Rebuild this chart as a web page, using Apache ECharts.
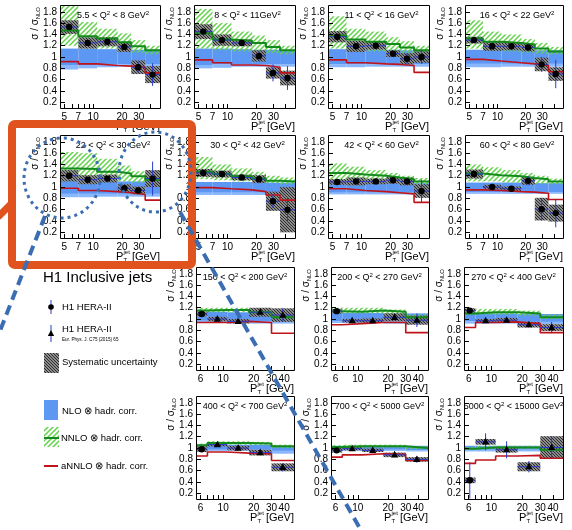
<!DOCTYPE html>
<html><head><meta charset="utf-8">
<script src="https://cdn.jsdelivr.net/npm/echarts@6.0.0/dist/echarts.min.js"></script>
<style>html,body{margin:0;padding:0;background:#fff;}#chart{width:572px;height:530px;}</style>
</head><body><div id="chart"></div>
<script>
// ================= DATA =================
const panelTitles = [
  '5.5 < Q{s|2} < 8 GeV{s|2}', '8 < Q{s|2} < 11GeV{s|2}', '11 < Q{s|2} < 16 GeV{s|2}', '16 < Q{s|2} < 22 GeV{s|2}',
  '22 < Q{s|2} < 30 GeV{s|2}', '30 < Q{s|2} < 42 GeV{s|2}', '42 < Q{s|2} < 60 GeV{s|2}', '60 < Q{s|2} < 80 GeV{s|2}',
  '150 < Q{s|2} < 200 GeV{s|2}', '200 < Q{s|2} < 270 GeV{s|2}', '270 < Q{s|2} < 400 GeV{s|2}',
  '400 < Q{s|2} < 700 GeV{s|2}', '700 < Q{s|2} < 5000 GeV{s|2}', '5000 < Q{s|2} < 15000 GeV{s|2}'
];
const ptEdgesLowQ2 = [4.5, 7, 11, 18, 25, 35, 50];
const ptEdgesHighQ2 = [5.4, 7, 11, 18, 30, 50];
const ptTicksLowQ2 = [5, 7, 10, 20, 30];
const ptTicksHighQ2 = [6, 10, 20, 30, 40];
const ptMinorLowQ2 = [5, 6, 7, 8, 9, 10, 20, 30, 40];
const ptMinorHighQ2 = [6, 7, 8, 9, 10, 20, 30, 40];
const ratioTicks = [0.2, 0.4, 0.6, 0.8, 1, 1.2, 1.4, 1.6, 1.8];

const h1Ratio = [
  [1.53, 1.25, 1.27, 1.18, 0.82, 0.69],
  [1.45, 1.30, 1.25, 1.02, 0.72, 0.63],
  [1.36, 1.19, 1.20, 1.06, 0.97, 1.00],
  [1.30, 1.19, 1.19, 1.17, 0.87, 0.70],
  [1.20, 1.13, 1.15, 0.98, 0.94, 1.15],
  [1.25, 1.23, 1.17, 1.14, 0.75, 0.60],
  [1.09, 1.10, 1.10, 1.12, 1.10, 0.93],
  [1.23, 1.00, 0.97, 1.11, 0.61, 0.54],
  [1.09, 1.00, 0.96, 1.12, 1.07],
  [1.14, 0.97, 0.97, 1.03, 0.98],
  [1.15, 0.97, 0.98, 0.90, 0.85],
  [0.98, 1.06, 1.00, 0.92, 0.66],
  [0.96, 0.99, 0.96, 0.88, 0.80],
  [0.43, 1.11, 0.97, 0.67, 1.01]
];
const statErr = [
  [0.03, 0.02, 0.02, 0.03, 0.10, 0.20],
  [0.03, 0.02, 0.02, 0.08, 0.15, 0.21],
  [0.03, 0.02, 0.02, 0.05, 0.10, 0.12],
  [0.03, 0.02, 0.02, 0.05, 0.13, 0.25],
  [0.03, 0.02, 0.02, 0.04, 0.05, 0.30],
  [0.03, 0.02, 0.02, 0.07, 0.12, 0.22],
  [0.02, 0.02, 0.02, 0.03, 0.05, 0.20],
  [0.04, 0.02, 0.02, 0.08, 0.20, 0.25],
  [0.02, 0.02, 0.02, 0.04, 0.12],
  [0.03, 0.02, 0.02, 0.05, 0.12],
  [0.03, 0.02, 0.02, 0.04, 0.10],
  [0.04, 0.02, 0.02, 0.04, 0.07],
  [0.04, 0.02, 0.02, 0.04, 0.06],
  [0.32, 0.15, 0.15, 0.10, 0.20]
];
const sysErr = [
  [0.12, 0.10, 0.08, 0.09, 0.12, 0.15],
  [0.13, 0.10, 0.06, 0.10, 0.10, 0.13],
  [0.10, 0.10, 0.07, 0.06, 0.10, 0.10],
  [0.06, 0.08, 0.07, 0.07, 0.12, 0.12],
  [0.10, 0.08, 0.07, 0.07, 0.07, 0.15],
  [0.07, 0.06, 0.05, 0.07, 0.17, 0.40],
  [0.05, 0.07, 0.05, 0.06, 0.07, 0.12],
  [0.08, 0.04, 0.04, 0.07, 0.20, 0.15],
  [0.04, 0.04, 0.04, 0.08, 0.12],
  [0.04, 0.03, 0.04, 0.07, 0.08],
  [0.04, 0.03, 0.04, 0.05, 0.06],
  [0.05, 0.03, 0.04, 0.05, 0.07],
  [0.04, 0.03, 0.03, 0.04, 0.04],
  [0.05, 0.05, 0.05, 0.08, 0.20]
];
const nnloCentral = [
  [1.47, 1.37, 1.33, 1.26, 1.19, 1.12],
  [1.42, 1.31, 1.29, 1.25, 1.18, 1.12],
  [1.38, 1.31, 1.27, 1.23, 1.17, 1.12],
  [1.33, 1.27, 1.25, 1.22, 1.15, 1.10],
  [1.33, 1.32, 1.27, 1.24, 1.19, 1.13],
  [1.27, 1.23, 1.19, 1.15, 1.11, 1.10],
  [1.25, 1.22, 1.20, 1.17, 1.14, 1.10],
  [1.24, 1.21, 1.19, 1.16, 1.14, 1.10],
  [1.15, 1.16, 1.16, 1.12, 1.03],
  [1.14, 1.13, 1.15, 1.13, 1.03],
  [1.10, 1.12, 1.12, 1.10, 1.03],
  [1.05, 1.09, 1.09, 1.08, 1.03],
  [1.02, 1.03, 1.03, 1.03, 1.00],
  [0.99, 1.01, 1.01, 1.01, 0.97]
];
const nnloLow = [
  [1.20, 1.15, 1.15, 1.12, 1.08, 1.05],
  [1.15, 1.12, 1.10, 1.10, 1.07, 1.05],
  [1.15, 1.10, 1.10, 1.08, 1.06, 1.05],
  [1.15, 1.12, 1.10, 1.08, 1.06, 1.05],
  [1.15, 1.15, 1.12, 1.10, 1.08, 1.05],
  [1.14, 1.12, 1.10, 1.08, 1.07, 1.05],
  [1.12, 1.10, 1.10, 1.08, 1.07, 1.05],
  [1.10, 1.10, 1.08, 1.07, 1.06, 1.05],
  [1.12, 1.12, 1.12, 1.08, 1.00],
  [1.10, 1.10, 1.10, 1.08, 1.00],
  [1.07, 1.08, 1.08, 1.06, 1.00],
  [1.02, 1.06, 1.06, 1.05, 1.00],
  [1.00, 1.01, 1.01, 1.01, 0.98],
  [0.97, 0.99, 0.99, 0.99, 0.95]
];
const nnloHigh = [
  [1.95, 1.62, 1.50, 1.42, 1.30, 1.20],
  [1.85, 1.60, 1.45, 1.38, 1.30, 1.20],
  [1.72, 1.50, 1.45, 1.35, 1.28, 1.20],
  [1.65, 1.45, 1.40, 1.32, 1.25, 1.18],
  [1.62, 1.60, 1.50, 1.38, 1.28, 1.20],
  [1.53, 1.40, 1.33, 1.27, 1.20, 1.17],
  [1.42, 1.36, 1.30, 1.25, 1.20, 1.16],
  [1.40, 1.35, 1.30, 1.25, 1.20, 1.15],
  [1.20, 1.20, 1.20, 1.17, 1.08],
  [1.20, 1.20, 1.20, 1.17, 1.08],
  [1.17, 1.18, 1.18, 1.15, 1.08],
  [1.08, 1.12, 1.12, 1.11, 1.06],
  [1.05, 1.06, 1.06, 1.06, 1.03],
  [1.02, 1.04, 1.04, 1.04, 1.00]
];
const annloCentral = [
  [0.92, 0.88, 0.85, 0.84, 0.82, 0.72],
  [0.95, 0.90, 0.86, 0.85, 0.82, 0.72],
  [0.95, 0.90, 0.88, 0.87, 0.85, 0.73],
  [0.96, 0.93, 0.90, 0.88, 0.85, 0.74],
  [0.98, 0.94, 0.92, 0.90, 0.87, 0.77],
  [0.99, 0.97, 0.95, 0.92, 0.86, 0.77],
  [0.97, 0.94, 0.92, 0.90, 0.88, 0.73],
  [0.95, 0.94, 0.92, 0.91, 0.89, 0.78],
  [0.94, 0.94, 0.96, 0.94, 0.75],
  [0.90, 0.92, 0.94, 0.94, 0.76],
  [0.85, 0.94, 0.95, 0.92, 0.76],
  [0.86, 0.93, 0.91, 0.90, 0.78],
  [0.84, 0.88, 0.90, 0.89, 0.78],
  [0.73, 0.79, 0.86, 0.87, 0.82]
];
const nloHigh = [
  [1.15, 1.15, 1.14, 1.14, 1.13, 1.13],
  [1.15, 1.15, 1.14, 1.13, 1.13, 1.12],
  [1.14, 1.14, 1.13, 1.13, 1.12, 1.12],
  [1.13, 1.13, 1.13, 1.12, 1.12, 1.12],
  [1.11, 1.11, 1.11, 1.10, 1.10, 1.10],
  [1.09, 1.09, 1.09, 1.08, 1.08, 1.08],
  [1.08, 1.08, 1.08, 1.08, 1.07, 1.07],
  [1.08, 1.08, 1.08, 1.07, 1.07, 1.07],
  [1.13, 1.13, 1.12, 1.12, 1.11],
  [1.11, 1.11, 1.11, 1.10, 1.10],
  [1.10, 1.10, 1.10, 1.09, 1.09],
  [1.06, 1.06, 1.06, 1.06, 1.04],
  [1.04, 1.04, 1.04, 1.04, 1.04],
  [1.04, 1.04, 1.04, 1.04, 1.04]
];
const nloMid = [
  [0.86, 0.86, 0.87, 0.87, 0.87, 0.87],
  [0.86, 0.87, 0.87, 0.87, 0.87, 0.87],
  [0.87, 0.87, 0.87, 0.87, 0.87, 0.87],
  [0.88, 0.88, 0.88, 0.88, 0.88, 0.88],
  [0.88, 0.88, 0.88, 0.88, 0.88, 0.88],
  [0.90, 0.90, 0.90, 0.90, 0.90, 0.90],
  [0.90, 0.90, 0.90, 0.90, 0.90, 0.90],
  [0.91, 0.91, 0.91, 0.91, 0.91, 0.91],
  [0.97, 0.97, 0.97, 0.96, 0.96],
  [0.96, 0.96, 0.96, 0.96, 0.95],
  [0.96, 0.96, 0.96, 0.95, 0.95],
  [0.97, 0.97, 0.97, 0.97, 0.95],
  [0.97, 0.97, 0.97, 0.97, 0.96],
  [0.97, 0.97, 0.97, 0.97, 0.96]
];
const nloLow = [
  [0.78, 0.80, 0.82, 0.83, 0.83, 0.83],
  [0.80, 0.81, 0.83, 0.83, 0.83, 0.83],
  [0.82, 0.82, 0.83, 0.83, 0.83, 0.83],
  [0.82, 0.82, 0.83, 0.83, 0.83, 0.83],
  [0.82, 0.82, 0.83, 0.83, 0.83, 0.83],
  [0.86, 0.86, 0.86, 0.86, 0.86, 0.86],
  [0.87, 0.87, 0.87, 0.87, 0.87, 0.87],
  [0.88, 0.88, 0.88, 0.88, 0.88, 0.88],
  [0.93, 0.93, 0.93, 0.92, 0.92],
  [0.93, 0.93, 0.93, 0.92, 0.91],
  [0.92, 0.92, 0.92, 0.91, 0.91],
  [0.94, 0.95, 0.95, 0.94, 0.90],
  [0.95, 0.95, 0.95, 0.95, 0.94],
  [0.94, 0.94, 0.94, 0.94, 0.93]
];
const markerLowQ2 = ['circle', 'circle', 'circle', 'circle', 'circle', 'circle'];
const markerHighQ2 = ['circle', 'triangle', 'triangle', 'triangle', 'triangle'];

const legendTexts = ['H1 Inclusive jets', 'H1 HERA-II', 'H1 HERA-II', 'Eur. Phys. J. C75 (2015) 65',
  'Systematic uncertainty', 'NLO \u2297 hadr. corr.', 'NNLO \u2297 hadr. corr.', 'aNNLO \u2297 hadr. corr.'];

// ================= LAYOUT / STYLE =================
const FONT = '"Liberation Sans", Arial, Helvetica, sans-serif';
const rowTops = [5, 135, 267, 396];
const rowHeight = 103;
const lowColLefts = [60, 194, 328, 465];
const lowColWidths = [100, 101, 101, 98];
const highColLefts = [196, 331, 464];
const highColWidths = [98, 97, 99];
const Y_MIN = 0.1, Y_MAX = 1.92;
const BLUE_ERR = '#2a3acb';
const NLO_DARK = '#5d97f4';
const NLO_LIGHT = '#8ab8ff';
const NNLO_LINE = '#138a1c';
const ANNLO_LINE = '#c0141c';
const L = Math.log10;
const clampY = v => Math.max(Y_MIN, Math.min(Y_MAX, v));

function makePattern(size, dir, color, lw, bg) {
  const c = document.createElement('canvas');
  c.width = size; c.height = size;
  const ctx = c.getContext('2d');
  if (bg) { ctx.fillStyle = bg; ctx.fillRect(0, 0, size, size); }
  ctx.strokeStyle = color; ctx.lineWidth = lw; ctx.lineCap = 'square';
  ctx.beginPath();
  if (dir > 0) {
    ctx.moveTo(-1, size + 1); ctx.lineTo(size + 1, -1);
    ctx.moveTo(-1, 1); ctx.lineTo(1, -1);
    ctx.moveTo(size - 1, size + 1); ctx.lineTo(size + 1, size - 1);
  } else {
    ctx.moveTo(-1, -1); ctx.lineTo(size + 1, size + 1);
    ctx.moveTo(size - 1, -1); ctx.lineTo(size + 1, 1);
    ctx.moveTo(-1, size - 1); ctx.lineTo(1, size + 1);
  }
  ctx.stroke();
  return { image: c, repeat: 'repeat' };
}
const greenHatch = makePattern(5, 1, '#62d24a', 1.5, null);
const grayHatch = makePattern(3, -1, '#262626', 1.1, 'rgba(175,175,175,0.92)');

function panelLayout(i) {
  if (i < 8) {
    const r = Math.floor(i / 4), c = i % 4;
    return { left: lowColLefts[c], top: rowTops[r], width: lowColWidths[c], height: rowHeight };
  }
  const j = i - 8, r = 2 + Math.floor(j / 3), c = j % 3;
  return { left: highColLefts[c], top: rowTops[r], width: highColWidths[c], height: rowHeight };
}

function rectSeries(i, edges, lo, hi, fill, z) {
  return {
    type: 'custom', xAxisIndex: i, yAxisIndex: i, z, clip: true, silent: true, animation: false,
    data: lo.map((v, b) => [L(edges[b]), L(edges[b + 1]), v, hi[b]]),
    renderItem: (params, api) => {
      const a = api.coord([api.value(0), clampY(api.value(3))]);
      const b = api.coord([api.value(1), clampY(api.value(2))]);
      return { type: 'rect', shape: { x: a[0], y: a[1], width: b[0] - a[0], height: b[1] - a[1] }, style: { fill } };
    }
  };
}
function stepSeries(i, edges, vals, color, width, z) {
  const pts = vals.map((v, b) => [L(edges[b]), v]);
  pts.push([L(edges[edges.length - 1]), vals[vals.length - 1]]);
  return {
    type: 'line', xAxisIndex: i, yAxisIndex: i, step: 'end', data: pts, symbol: 'none', showSymbol: false,
    lineStyle: { color, width }, z, silent: true, animation: false
  };
}
function dataSeries(i, edges, vals, stats, shapes) {
  return {
    type: 'custom', xAxisIndex: i, yAxisIndex: i, z: 8, clip: true, silent: true, animation: false,
    data: vals.map((v, b) => [L(edges[b]), L(edges[b + 1]), v, stats[b]]),
    renderItem: (params, api) => {
      const x0 = api.value(0), x1 = api.value(1), y = api.value(2), s = api.value(3);
      const xc = (x0 + x1) / 2;
      const pl = api.coord([x0, y]), pr = api.coord([x1, y]);
      const pt = api.coord([xc, clampY(y + s)]), pb = api.coord([xc, clampY(y - s)]);
      const pc = api.coord([xc, y]);
      const children = [
        { type: 'line', shape: { x1: pl[0], y1: pl[1], x2: pr[0], y2: pr[1] }, style: { stroke: BLUE_ERR, lineWidth: 1 } },
        { type: 'line', shape: { x1: pt[0], y1: pt[1], x2: pb[0], y2: pb[1] }, style: { stroke: BLUE_ERR, lineWidth: 1 } }
      ];
      if (shapes[params.dataIndex] === 'triangle') {
        children.push({ type: 'polygon', shape: { points: [[pc[0], pc[1] - 4], [pc[0] - 3.6, pc[1] + 2.6], [pc[0] + 3.6, pc[1] + 2.6]] }, style: { fill: '#000' } });
      } else {
        children.push({ type: 'circle', shape: { cx: pc[0], cy: pc[1], r: 3.2 }, style: { fill: '#000' } });
      }
      return { type: 'group', children };
    }
  };
}

const grids = [], xAxes = [], yAxes = [], series = [], graphics = [];
const textEl = (x, y, text, size, extra) => ({
  type: 'text', x, y, z: 100, silent: true,
  style: Object.assign({ text, fontSize: size, fontFamily: FONT, fill: '#000', align: 'left', verticalAlign: 'middle' }, extra || {})
});

for (let i = 0; i < panelTitles.length; i++) {
  const high = i >= 8;
  const edges = high ? ptEdgesHighQ2 : ptEdgesLowQ2;
  const ticks = high ? ptTicksHighQ2 : ptTicksLowQ2;
  const minor = high ? ptMinorHighQ2 : ptMinorLowQ2;
  const shapes = high ? markerHighQ2 : markerLowQ2;
  const g = panelLayout(i);
  grids.push({ left: g.left, top: g.top, width: g.width, height: g.height, show: false, containLabel: false });
  xAxes.push({
    type: 'value', gridIndex: i, min: L(edges[0]), max: L(edges[edges.length - 1]), z: 10,
    axisLine: { show: false }, splitLine: { show: false },
    axisTick: { show: true, inside: true, length: 4, customValues: minor.map(L), lineStyle: { color: '#000', width: 1 } },
    axisLabel: { show: true, customValues: ticks.map(L), formatter: v => String(Math.round(Math.pow(10, v))),
      color: '#000', fontSize: 10, fontFamily: FONT, margin: 4 }
  });
  yAxes.push({
    type: 'value', gridIndex: i, min: Y_MIN, max: Y_MAX, z: 10,
    axisLine: { show: false }, splitLine: { show: false },
    axisTick: { show: true, inside: true, length: 5, customValues: ratioTicks, lineStyle: { color: '#000', width: 1 } },
    axisLabel: { show: true, customValues: ratioTicks, formatter: v => String(Math.round(v * 10) / 10),
      color: '#000', fontSize: 10, fontFamily: FONT, margin: 3 }
  });
  const sysLo = h1Ratio[i].map((v, b) => v - sysErr[i][b]);
  const sysHi = h1Ratio[i].map((v, b) => v + sysErr[i][b]);
  series.push(rectSeries(i, edges, nloLow[i], nloMid[i], NLO_LIGHT, 1));
  series.push(rectSeries(i, edges, nloMid[i], nloHigh[i], NLO_DARK, 2));
  series.push(rectSeries(i, edges, nnloLow[i], nnloHigh[i], greenHatch, 3));
  series.push(rectSeries(i, edges, sysLo, sysHi, grayHatch, 4));
  series.push(stepSeries(i, edges, nnloCentral[i], NNLO_LINE, 2, 5));
  series.push(stepSeries(i, edges, annloCentral[i], ANNLO_LINE, 1.6, 6));
  series.push(dataSeries(i, edges, h1Ratio[i], statErr[i], shapes));

  // frame
  graphics.push({ type: 'rect', z: 90, silent: true, shape: { x: g.left + 0.5, y: g.top + 0.5, width: g.width, height: g.height },
    style: { fill: 'none', stroke: '#000', lineWidth: 1 } });
  // panel title
  graphics.push(textEl(g.left + g.width / 2 + (high ? 0 : 3), g.top + 11, panelTitles[i], 9, {
    align: 'center', lineHeight: 12,
    rich: { s: { fontSize: 6, fontFamily: FONT, verticalAlign: 'top', lineHeight: 6 } }
  }));
  // x axis title  P_T^jet [GeV]
  const R = g.left + g.width, ty = g.top + g.height + 19;
  graphics.push({ type: 'group', z: 100, silent: true, children: [
    textEl(R - 44, ty, 'P', 11),
    textEl(R - 36.5, ty - 4.5, 'jet', 6),
    textEl(R - 36.5, ty + 3.5, 'T', 6),
    textEl(R, ty, '[GeV]', 11, { align: 'right' })
  ]});
  // y axis title  sigma / sigma_NLO (rotated)
  graphics.push({ type: 'group', z: 100, silent: true, x: g.left - 25, y: g.top + 2, rotation: Math.PI / 2, children: [
    textEl(0, 3, 'NLO', 6, { align: 'right' }),
    textEl(-12, 0, '\u03c3 / \u03c3', 10, { align: 'right' })
  ]});
}

// ---- legend block ----
graphics.push(textEl(43, 278, legendTexts[0], 15));
graphics.push({ type: 'line', z: 100, shape: { x1: 51, y1: 300, x2: 51, y2: 314 }, style: { stroke: BLUE_ERR, lineWidth: 1 } });
graphics.push({ type: 'circle', z: 101, shape: { cx: 51, cy: 307, r: 2.8 }, style: { fill: '#000' } });
graphics.push(textEl(62, 307, legendTexts[1], 9.5));
graphics.push({ type: 'line', z: 100, shape: { x1: 51, y1: 325, x2: 51, y2: 342 }, style: { stroke: BLUE_ERR, lineWidth: 1 } });
graphics.push({ type: 'polygon', z: 101, shape: { points: [[51, 330], [47.8, 336], [54.2, 336]] }, style: { fill: '#000' } });
graphics.push(textEl(62, 329.5, legendTexts[2], 9.5));
graphics.push(textEl(62, 339.5, legendTexts[3], 4.6));
graphics.push({ type: 'rect', z: 100, shape: { x: 44, y: 353, width: 15, height: 20 }, style: { fill: grayHatch } });
graphics.push(textEl(62, 362, legendTexts[4], 9.5));
graphics.push({ type: 'rect', z: 100, shape: { x: 44, y: 400, width: 14, height: 20 }, style: { fill: NLO_DARK } });
graphics.push(textEl(62, 411, legendTexts[5], 9.5));
graphics.push({ type: 'rect', z: 100, shape: { x: 44, y: 427, width: 15, height: 20 }, style: { fill: greenHatch } });
graphics.push({ type: 'line', z: 101, shape: { x1: 44, y1: 438, x2: 59, y2: 438 }, style: { stroke: NNLO_LINE, lineWidth: 2 } });
graphics.push(textEl(61, 438, legendTexts[6], 9.5));
graphics.push({ type: 'line', z: 100, shape: { x1: 44, y1: 466, x2: 58, y2: 466 }, style: { stroke: ANNLO_LINE, lineWidth: 2 } });
graphics.push(textEl(61, 466, legendTexts[7], 9.5));

// ---- annotation overlays ----
const ORANGE = '#e0531e', DASHBLUE = '#3b6db3';
graphics.push({ type: 'rect', z: 200, silent: true, shape: { x: 12, y: 124, width: 180, height: 141, r: 3 },
  style: { fill: 'none', stroke: ORANGE, lineWidth: 8 } });
graphics.push({ type: 'line', z: 200, silent: true, shape: { x1: 12, y1: 203, x2: -2, y2: 217 }, style: { stroke: ORANGE, lineWidth: 7 } });
graphics.push({ type: 'ellipse', z: 210, silent: true, shape: { cx: 62, cy: 178, rx: 38, ry: 40 },
  style: { fill: 'none', stroke: DASHBLUE, lineWidth: 3, lineDash: [3, 4] } });
graphics.push({ type: 'ellipse', z: 210, silent: true, shape: { cx: 155, cy: 172, rx: 36, ry: 40 },
  style: { fill: 'none', stroke: DASHBLUE, lineWidth: 3, lineDash: [3, 4] } });
graphics.push({ type: 'line', z: 210, silent: true, shape: { x1: 45, y1: 216, x2: -2, y2: 336 },
  style: { stroke: DASHBLUE, lineWidth: 4, lineDash: [10, 6] } });
graphics.push({ type: 'line', z: 210, silent: true, shape: { x1: 180, y1: 212, x2: 362, y2: 532 },
  style: { stroke: DASHBLUE, lineWidth: 4, lineDash: [10, 6] } });

const chart = echarts.init(document.getElementById('chart'), null, { renderer: 'canvas' });
chart.setOption({
  animation: false,
  backgroundColor: '#ffffff',
  grid: grids, xAxis: xAxes, yAxis: yAxes, series, graphic: graphics
});
</script>
</body></html>
